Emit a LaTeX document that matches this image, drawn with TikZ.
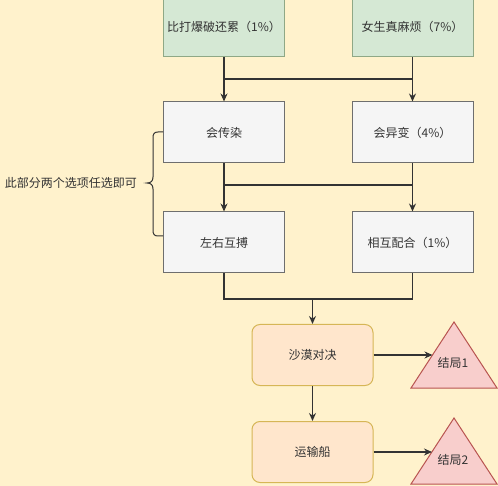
\documentclass[tikz,border=0pt]{standalone}
\usepackage{fontspec}
\setmainfont{Noto Sans CJK SC}
\usetikzlibrary{arrows.meta,calc}
\definecolor{bg}{HTML}{FFF2CC}
\definecolor{gfill}{HTML}{D5E8D4}
\definecolor{gline}{HTML}{8FA886}
\definecolor{wfill}{HTML}{F5F5F5}
\definecolor{wline}{HTML}{6E6E6E}
\definecolor{ofill}{HTML}{FFE6CC}
\definecolor{oline}{HTML}{D6B656}
\definecolor{pfill}{HTML}{F8CECC}
\definecolor{pline}{HTML}{B85450}
\definecolor{ink}{HTML}{333333}
\begin{document}
\begin{tikzpicture}[x=1pt,y=-1pt,
  every node/.style={font=\fontsize{12pt}{14pt}\selectfont, text=ink},
  box/.style={draw, line width=1pt, minimum width=121pt, minimum height=61pt, inner sep=0pt},
  greenbox/.style={box, fill=gfill, draw=gline},
  graybox/.style={box, fill=wfill, draw=wline},
  roundbox/.style={box, fill=ofill, draw=oline, rounded corners=8pt},
  tri/.style={draw=pline, fill=pfill, line width=1pt},
  conn/.style={draw=ink, line width=1.2pt},
  arr/.style={conn, -{Stealth[length=8pt,width=7pt]}},
  lbl/.style={inner sep=0pt}
]
\fill[bg] (0,0) rectangle (498,486);
\useasboundingbox (0,0) rectangle (498,486);

% boxes
\node[greenbox] (a) at (224,26.5) {比打爆破还累（1\%）};
\node[greenbox] (b) at (412.5,26.5) {女生真麻烦（7\%）};
\node[graybox] (c) at (224,132.5) {会传染};
\node[graybox] (d) at (412.5,132.5) {会异变（4\%）};
\node[graybox] (e) at (224,242.5) {左右互搏};
\node[graybox] (f) at (412.5,242.5) {相互配合（1\%）};
\node[roundbox] (g) at (312.5,355) {沙漠对决};
\node[roundbox] (h) at (312.5,452) {运输船};

% triangles
\draw[tri] (411,388) -- (454,322) -- (497,388) -- cycle;
\node[lbl] (t1) at (453,363) {结局1};
\coordinate (t1in) at (432.5,355);
\draw[tri] (411,484) -- (454,418) -- (497,484) -- cycle;
\node[lbl] (t2) at (453,460) {结局2};
\coordinate (t2in) at (432,452);

% connectors row 1 -> row 2
\coordinate (m1) at (224,79);
\coordinate (m1r) at (412.5,79);
\draw[arr] (a.south) -- (c.north);
\draw[arr] (b.south) -- (d.north);
\draw[conn] (m1) -- (m1r);

% row 2 -> row 3
\coordinate (m2) at (224,185);
\coordinate (m2r) at (412.5,185);
\draw[arr] (c.south) -- (e.north);
\draw[arr] (d.south) -- (f.north);
\draw[conn] (m2) -- (m2r);

% row 3 -> desert
\coordinate (m3) at (312.5,299);
\draw[conn] (e.south) |- (m3);
\draw[conn] (f.south) |- (m3);
\draw[arr] (m3) -- (g.north);

% desert -> ending / ship
\draw[arr] (g.east) -- (t1in);
\draw[arr] (g.south) -- (h.north);
\draw[arr] (h.east) -- (t2in);

% brace
\draw[draw=ink, line width=1pt] (163,132) -- (158,132)
  .. controls (154,132) and (153,134) .. (153,138) -- (153,177)
  .. controls (153,181) and (151,183) .. (147,183)
  .. controls (151,183) and (153,185) .. (153,189) -- (153,230)
  .. controls (153,234) and (154,236) .. (158,236) -- (163,236);
\node[lbl, anchor=east] (note) at (137,183) {此部分两个选项任选即可};
\end{tikzpicture}
\end{document}
